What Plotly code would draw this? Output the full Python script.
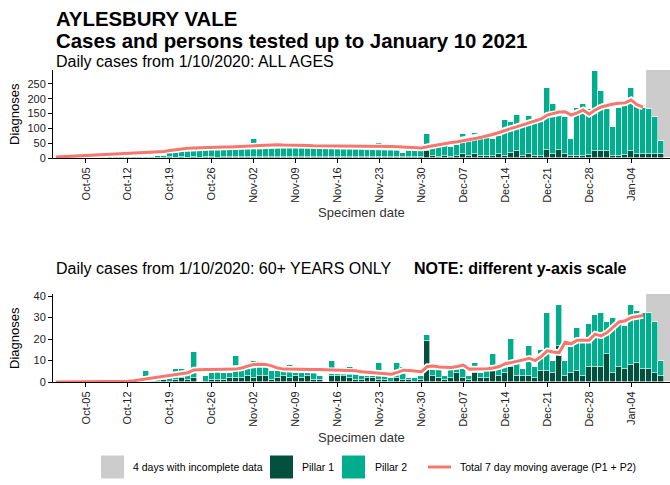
import pandas as pd
import plotly.graph_objects as go

# specimen dates, 30 Sep 2020 to 10 Jan 2021
dates = pd.date_range("2020-09-30", "2021-01-10", freq="D")

# ALL AGES
pillar1_all = [0, 0, 0, 0, 0, 0, 0, 0, 0, 1,
               0, 0, 1, 0, 1, 0, 1, 1, 1, 2,
               1, 2, 1, 2, 1, 2, 2, 1, 2, 2,
               3, 2, 2, 3, 2, 3, 2, 3, 2, 3,
               2, 3, 2, 3, 2, 2, 3, 2, 3, 2,
               2, 3, 2, 2, 3, 2, 2, 3, 2, 3,
               3, 4, 25, 6, 5, 6, 5, 6, 12, 8,
               15, 8, 8, 6, 14, 8, 17, 22, 8, 15,
               8, 8, 27, 12, 28, 15, 6, 8, 8, 10,
               22, 24, 24, 8, 8, 10, 24, 15, 15, 15,
               12, 12, 0]
pillar2_all = [1, 1, 2, 1, 2, 1, 2, 2, 3, 2,
               3, 3, 4, 3, 4, 5, 4, 6, 7, 31,
               27, 30, 23, 24, 24, 25, 26, 25, 28, 27,
               43, 29, 31, 60, 36, 37, 37, 38, 38, 35,
               37, 34, 36, 30, 34, 33, 27, 46, 34, 34,
               33, 31, 31, 30, 46, 32, 31, 29, 15, 27,
               25, 27, 56, 30, 37, 51, 33, 38, 69, 56,
               70, 72, 70, 58, 61, 120, 106, 123, 98, 128,
               115, 120, 208, 169, 134, 125, 58, 162, 173, 157,
               272, 202, 143, 98, 162, 168, 211, 166, 155, 152,
               128, 45, 0]
avg_all = [3, 4, 5, 6, 7, 8, 9, 10, 11, 12,
           13, 14, 15, 16, 17, 18, 19, 20, 22, 25,
           28, 31, 33, 34, 35, 35, 36, 36, 37, 37,
           38, 39, 40, 42, 44, 45, 45, 45, 44, 44,
           43, 42, 42, 41, 41, 40, 40, 40, 40, 40,
           40, 40, 40, 39, 40, 40, 39, 38, 37, 36,
           35, 34, 38, 42, 46, 50, 52, 55, 58, 62,
           66, 70, 74, 80, 86, 94, 100, 106, 112, 118,
           124, 132, 145, 150, 155, 156, 145, 152, 162, 148,
           162, 172, 178, 182, 185, 186, 196, 180, 172,
           None, None, None, None]

# 60+ YEARS ONLY
pillar1_60 = [0, 0, 0, 0, 0, 0, 0, 0, 0, 0,
              0, 0, 0, 0, 0, 0, 0, 0, 1, 0,
              1, 2, 1, 2, 0, 0, 1, 1, 1, 2,
              2, 2, 3, 2, 3, 3, 1, 2, 3, 2,
              3, 2, 3, 1, 1, 0, 3, 3, 3, 2,
              1, 1, 2, 2, 1, 1, 0, 2, 1, 1,
              0, 1, 19, 3, 2, 1, 2, 4, 2, 1,
              4, 2, 2, 6, 3, 4, 7, 3, 3, 3,
              2, 5, 5, 4, 17, 3, 4, 5, 3, 7,
              7, 7, 13, 4, 7, 6, 8, 9, 6, 6,
              4, 3, 0]
pillar2_60 = [0, 0, 0, 0, 0, 0, 0, 0, 0, 0,
              0, 0, 0, 1, 0, 5, 2, 1, 1, 2,
              5, 4, 3, 12, 0, 3, 3, 6, 3, 2,
              10, 4, 3, 8, 7, 4, 4, 3, 4, 6,
              1, 2, 1, 3, 2, 0, 7, 1, 1, 5,
              5, 2, 1, 1, 8, 2, 2, 7, 6, 1,
              2, 2, 3, 3, 4, 2, 4, 3, 5, 2,
              5, 2, 3, 7, 4, 3, 13, 6, 3, 14,
              5, 10, 27, 6, 19, 7, 13, 20, 15, 20,
              24, 25, 15, 26, 22, 20, 28, 24, 26, 26,
              24, 7, 0]
avg_60 = [0, 0, 0, 0, 0, 0, 0, 0, 0, 0,
          0, 0, 0.3, 0.6, 1, 1.5, 2, 2.3, 2.7, 3,
          3.5, 4, 4.3, 5.6, 5.8, 5.8, 5.8, 5.8, 5.8, 5.9,
          6, 6.5, 7.5, 8.2, 8.3, 8.2, 7.5, 6.5, 6, 5.9,
          5.8, 5.8, 5.8, 5.8, 5.8, 5.7, 5.7, 5.7, 5.7, 5.6,
          5.2, 4.8, 4.5, 4.3, 4.2, 3.9, 3.6, 4.5, 5.5, 5.3,
          5, 4.8, 7.2, 7.4, 7, 6.8, 6.8, 7.2, 7.9, 6,
          6, 6.1, 6.2, 6.5, 7.2, 8.5, 9, 9.6, 10.3, 11,
          10, 11.8, 14.5, 14, 13.7, 18.5, 17.8, 19.5, 19.5, 19.5,
          22.3, 21.5, 23, 25.5, 28, 28.5, 30, 30.5, 31,
          None, None, None, None]

incomplete_start = "2021-01-06 12:00"
x_range = ["2020-09-29 12:00", "2021-01-10 12:00"]

P1_COL = "#04503e"
P2_COL = "#00ae8d"
AVG_COL = "#f8766d"
GREY = "#cccccc"
FONT = "Liberation Sans, Arial, sans-serif"

W, H = 670, 485
ML = 53


def px(x):
    return (x - ML) / (W - ML)


def py(y):
    return 1 - y / H


fig = go.Figure()

panels = [("x", "y", pillar1_all, pillar2_all, avg_all),
          ("x2", "y2", pillar1_60, pillar2_60, avg_60)]
for xa, ya, p1, p2, avg in panels:
    fig.add_trace(go.Bar(x=dates, y=p1, xaxis=xa, yaxis=ya, name="Pillar 1",
                         marker=dict(color=P1_COL, line=dict(color="white", width=0.6))))
    fig.add_trace(go.Bar(x=dates, y=p2, xaxis=xa, yaxis=ya, name="Pillar 2",
                         marker=dict(color=P2_COL, line=dict(color="white", width=0.6))))
    fig.add_trace(go.Scatter(x=dates, y=avg, xaxis=xa, yaxis=ya, mode="lines",
                             line=dict(color="white", width=6.5), hoverinfo="skip"))
    fig.add_trace(go.Scatter(x=dates, y=avg, xaxis=xa, yaxis=ya, mode="lines",
                             name="Total 7 day moving average (P1 + P2)",
                             line=dict(color=AVG_COL, width=3)))
    fig.add_shape(type="rect", xref=xa, yref=ya + " domain", x0=incomplete_start, x1=x_range[1],
                  y0=0, y1=1, fillcolor=GREY, line=dict(width=0), layer="below")

xcommon = dict(type="date", range=x_range, tick0="2020-10-05", dtick=7 * 86400000,
               tickformat="%b-%d", tickangle=-90, ticks="outside", ticklen=4,
               tickcolor="black", showline=True, linecolor="black", linewidth=1,
               showgrid=False, zeroline=False, automargin=False,
               tickfont=dict(family=FONT, size=11, color="#222222"))
ycommon = dict(ticks="outside", ticklen=4, tickcolor="black", showline=True,
               linecolor="black", linewidth=1, showgrid=False, zeroline=False,
               automargin=False, tickfont=dict(family=FONT, size=11, color="#222222"))

fig.update_layout(
    width=W, height=H,
    margin=dict(l=ML, r=0, t=0, b=0),
    paper_bgcolor="white", plot_bgcolor="white",
    barmode="stack", bargap=0, showlegend=False,
    font=dict(family=FONT, color="black"),
    xaxis=dict(domain=[0, 1], anchor="y", **xcommon),
    yaxis=dict(domain=[py(158), py(70)], anchor="x", range=[0, 297],
               tickvals=[0, 50, 100, 150, 200, 250], **ycommon),
    xaxis2=dict(domain=[0, 1], anchor="y2", **xcommon),
    yaxis2=dict(domain=[py(382), py(294)], anchor="x2", range=[0, 41],
                tickvals=[0, 10, 20, 30, 40], **ycommon),
)


def note(text, x, y, size, xanchor="left", angle=0, color="black"):
    fig.add_annotation(text=text, x=px(x), y=py(y), xref="paper", yref="paper",
                       xanchor=xanchor, yanchor="middle", showarrow=False, textangle=angle,
                       font=dict(family=FONT, size=size, color=color))


note("<b>AYLESBURY VALE</b>", 54, 19, 20.4)
note("<b>Cases and persons tested up to January 10 2021</b>", 54, 40.5, 20.4)
note("Daily cases from 1/10/2020: ALL AGES", 54, 61, 16)
note("Daily cases from 1/10/2020: 60+ YEARS ONLY", 54, 268, 16)
note("<b>NOTE: different y-axis scale</b>", 412, 268, 16)
for yc in (114, 338):
    note("Diagnoses", 14, yc, 13, xanchor="center", angle=-90)
for yc in (212, 437):
    note("Specimen date", 361.5, yc, 13, xanchor="center", color="#333333")

# legend drawn by hand so the keys match the original size
ly = 467
keys = [(101, GREY, "4 days with incomplete data", 131),
        (270, P1_COL, "Pillar 1", 300),
        (342, P2_COL, "Pillar 2", 373)]
for x0, col, label, tx in keys:
    fig.add_shape(type="rect", xref="paper", yref="paper", x0=px(x0), x1=px(x0 + 23),
                  y0=py(ly + 11.5), y1=py(ly - 11.5), fillcolor=col, line=dict(width=0))
    note(label, tx, ly, 10.5)
fig.add_shape(type="line", xref="paper", yref="paper", x0=px(428), x1=px(451),
              y0=py(ly), y1=py(ly), line=dict(color=AVG_COL, width=3))
note("Total 7 day moving average (P1 + P2)", 458, ly, 10.5)

# the page's default 8px body margin would shift the chart, so drop it
fig.write_html("out.html", config={"displayModeBar": False},
               post_script="document.body.style.margin='0';")
